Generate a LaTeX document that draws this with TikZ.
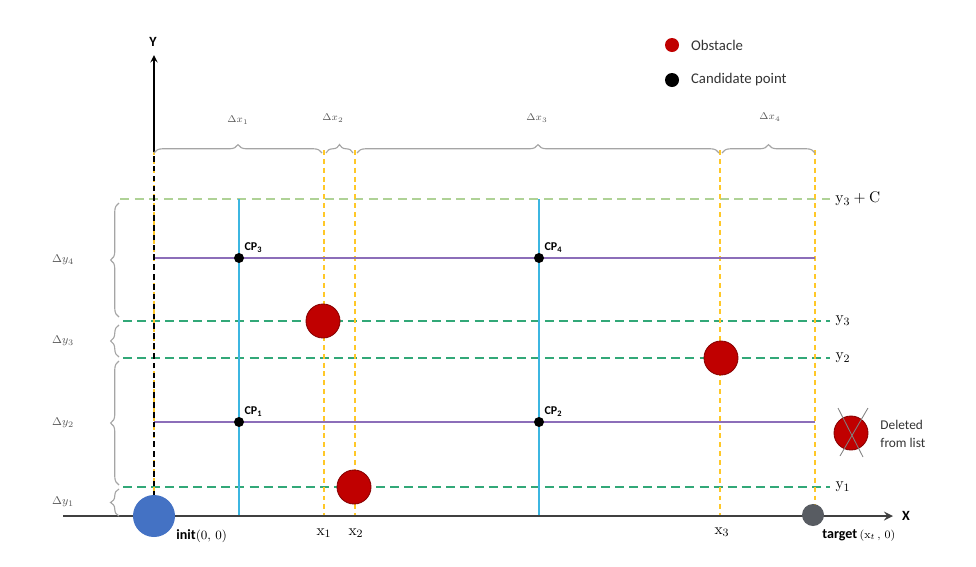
\documentclass[tikz,border=0pt]{standalone}
\usepackage[no-math]{fontspec}
\setmainfont{Carlito}
\usetikzlibrary{decorations.pathreplacing}
\definecolor{obsred}{RGB}{192,0,0}
\definecolor{initblue}{RGB}{68,114,196}
\definecolor{tgtgray}{RGB}{88,92,98}
\definecolor{dashyellow}{RGB}{255,200,40}
\definecolor{dashgreen}{RGB}{50,168,120}
\definecolor{palegreen}{RGB}{175,210,150}
\definecolor{cpcyan}{RGB}{60,182,225}
\definecolor{cppurple}{RGB}{140,110,185}
\definecolor{bracegray}{RGB}{165,165,165}
\definecolor{axisgray}{RGB}{64,64,64}
\tikzset{
  obstacle/.style={circle, fill=obsred, draw=obsred!70!black, minimum size=0.85cm, inner sep=0pt},
  cand/.style={circle, fill=black, minimum size=0.25cm, inner sep=0pt},
  xmark/.style={dashyellow, line width=1pt, dash pattern=on 3.5pt off 2.8pt},
  ymark/.style={dashgreen, line width=1.3pt, dash pattern=on 6.4pt off 3.6pt},
  dbrace/.style={bracegray, line width=0.8pt, decorate, decoration={brace, amplitude=6pt}},
  cplabel/.style={font=\bfseries\fontsize{8.5}{10}\selectfont, anchor=south west, inner sep=1pt},
  dlabel/.style={text=black!65, font=\fontsize{7.5}{9}\selectfont},
  vlabel/.style={font=\fontsize{11}{13}\selectfont}
}
\begin{document}
\begin{tikzpicture}[>=stealth, semithick, x=0.025cm, y=-0.025cm]
    \useasboundingbox (0,0) rectangle (976,567);
    \coordinate (O) at (154,516);
    \coordinate (Ybrk) at (154,148);
    \coordinate (Ytop) at (154,55);
    \coordinate (Xl) at (63,516);
    \coordinate (Xr) at (893,516);
    \draw[palegreen, line width=1.1pt, dash pattern=on 6.4pt off 4pt] (120,199) -- (830,199) node[right, black, vlabel] {$\mathrm{y}_3+\mathrm{C}$};
    \draw[ymark] (123,321) -- (830,321) node[right, black, vlabel] {$\mathrm{y}_3$};
    \draw[ymark] (123,358) -- (830,358) node[right, black, vlabel] {$\mathrm{y}_2$};
    \draw[ymark] (123,487) -- (830,487) node[right, black, vlabel] {$\mathrm{y}_1$};
    \foreach \xx in {154,324,355,720,815}
        \draw[xmark] (\xx,150) -- (\xx,516);
    \draw[cpcyan, line width=1.3pt] (239,199) -- (239,516);
    \draw[cpcyan, line width=1.3pt] (539,199) -- (539,516);
    \draw[cppurple, line width=1.3pt] (154,258) -- (815,258);
    \draw[cppurple, line width=1.3pt] (154,422) -- (815,422);
    \draw[black, line width=1pt, dash pattern=on 4pt off 3pt] (O) -- (Ybrk);
    \draw[->, black, line width=1.3pt] (Ybrk) -- (Ytop);
    \draw[->, axisgray, line width=1.8pt] (Xl) -- (Xr);
    \node[font=\bfseries] (ylab) at (153,42) {Y};
    \node[font=\bfseries, right] (xlab) at (897,516) {X};
    \draw[dbrace] (154,153) -- (322,153);
    \draw[dbrace] (326,153) -- (353,153);
    \draw[dbrace] (357,153) -- (719,153);
    \draw[dbrace] (722,153) -- (815,153);
    \node[dlabel] (dx1) at (238,120) {$\Delta x_1$};
    \node[dlabel] (dx2) at (333,118) {$\Delta x_2$};
    \node[dlabel] (dx3) at (537,118) {$\Delta x_3$};
    \node[dlabel] (dx4) at (770,117) {$\Delta x_4$};
    \draw[dbrace] (119,317) -- (119,203);
    \draw[dbrace] (119,357) -- (119,325);
    \draw[dbrace] (119,485) -- (119,361);
    \draw[dbrace] (119,516) -- (119,489);
    \node[dlabel, font=\fontsize{8}{9}\selectfont] (dy4) at (63,260) {$\Delta y_4$};
    \node[dlabel, font=\fontsize{8}{9}\selectfont] (dy3) at (63,341) {$\Delta y_3$};
    \node[dlabel, font=\fontsize{8}{9}\selectfont] (dy2) at (63,423) {$\Delta y_2$};
    \node[dlabel, font=\fontsize{8}{9}\selectfont] (dy1) at (63,502) {$\Delta y_1$};
    \node[cand] (cp3) at (239,258) {};
    \node[cand] (cp4) at (539,258) {};
    \node[cand] (cp1) at (239,422) {};
    \node[cand] (cp2) at (539,422) {};
    \node[cplabel] at (cp3.north east) {CP\textsubscript{3}};
    \node[cplabel] at (cp4.north east) {CP\textsubscript{4}};
    \node[cplabel] at (cp1.north east) {CP\textsubscript{1}};
    \node[cplabel] at (cp2.north east) {CP\textsubscript{2}};
    \node[obstacle] (obs1) at (323,321) {};
    \node[obstacle] (obs2) at (354,487) {};
    \node[obstacle] (obs3) at (721,358) {};
    \node[circle, fill=initblue, minimum size=1.05cm, inner sep=0pt] (init) at (O) {};
    \node[circle, fill=tgtgray, minimum size=0.55cm, inner sep=0pt] (target) at (813,515) {};
    \node[anchor=west, inner sep=0pt] (initlab) at (176,536) {\textbf{init}\fontsize{9}{10}\selectfont$(0,\,0)$};
    \node[anchor=west, inner sep=0pt] (tgtlab) at (822,535) {\textbf{target}\,\fontsize{8}{10}\selectfont$(\mathrm{x}_t\,,\,0)$};
    \node[vlabel] (x1) at (324,533) {$\mathrm{x}_1$};
    \node[vlabel] (x2) at (356,533) {$\mathrm{x}_2$};
    \node[vlabel] (x3) at (722,532) {$\mathrm{x}_3$};
    \node[obstacle] (del) at (851,433) {};
    \draw[gray, line width=0.6pt] (838,408) -- (863,457);
    \draw[gray, line width=0.6pt] (868,408) -- (840,456);
    \node[anchor=west, align=left, inner sep=0pt, font=\fontsize{9.5}{12.5}\selectfont, text=black!80] (dellab) at (880,434) {Deleted\\from list};
    \node[circle, fill=obsred, minimum size=0.35cm, inner sep=0pt] (legobs) at (672,45) {};
    \node[circle, fill=black, minimum size=0.35cm, inner sep=0pt] (legcp) at (672,80) {};
    \node[anchor=west, font=\fontsize{10.5}{12}\selectfont, text=black!80] at (686,45) {Obstacle};
    \node[anchor=west, font=\fontsize{10.5}{12}\selectfont, text=black!80] at (686,80) {Candidate point};
\end{tikzpicture}
\end{document}
